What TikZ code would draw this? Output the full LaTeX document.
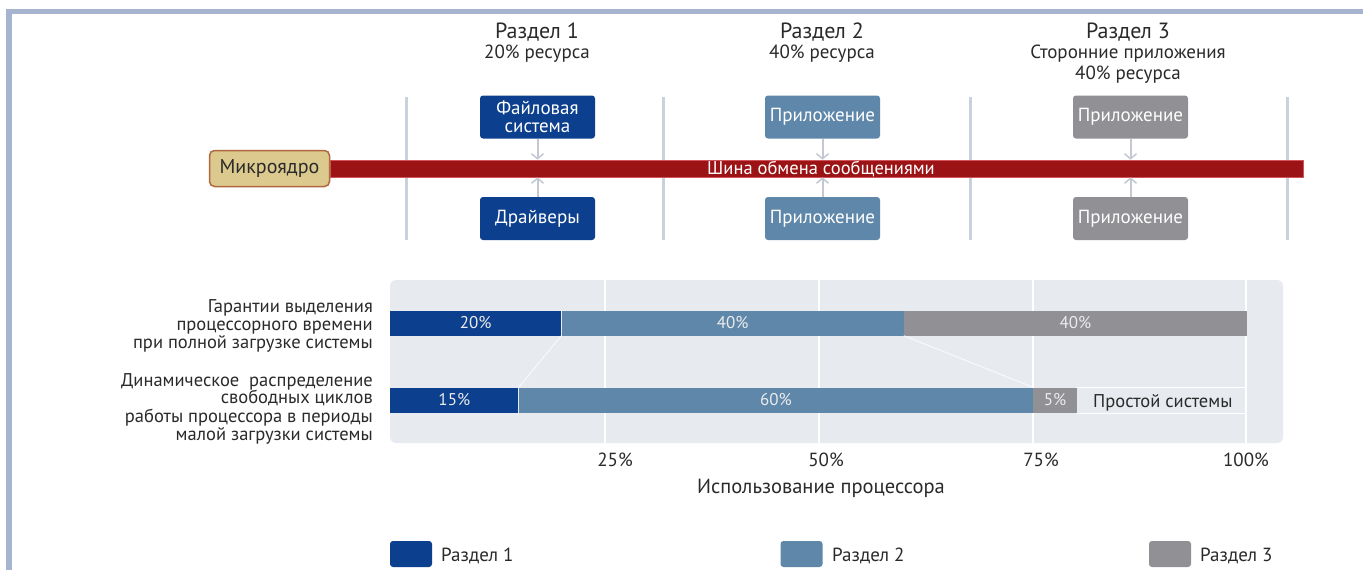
\documentclass[tikz,border=0pt]{standalone}
\usepackage{fontspec}
\setmainfont{PT Sans}
\usetikzlibrary{arrows.meta}
\definecolor{frame}{HTML}{A6B4CF}
\definecolor{sone}{HTML}{0C3F8D}
\definecolor{stwo}{HTML}{5E87A9}
\definecolor{sthree}{HTML}{909095}
\definecolor{busred}{HTML}{9C1315}
\definecolor{busedge}{HTML}{D0545A}
\definecolor{kernfill}{HTML}{DCC98E}
\definecolor{kernedge}{HTML}{B0683F}
\definecolor{vlinec}{HTML}{C9D1DD}
\definecolor{arrc}{HTML}{C4C8D0}
\definecolor{panel}{HTML}{E7EBF0}
\definecolor{txt}{HTML}{2A2A2A}
\newcommand\fsz[2]{\fontsize{#1}{#2}\selectfont}
\tikzset{
  secbox/.style={rounded corners=3pt, minimum width=115pt, minimum height=43pt, text=white, font=\fsz{19}{18}, align=center, inner sep=0pt},
  vline/.style={draw=vlinec, line width=3pt},
  msgarr/.style={draw=arrc, line width=2pt, -{Straight Barb[length=5pt,width=12pt,line width=1.5pt]}},
  ttl/.style={font=\fsz{22}{22}, text=txt, inner sep=0pt, anchor=base},
  sub/.style={font=\fsz{19}{19}, text=txt, inner sep=0pt, anchor=base},
  barseg/.style={minimum height=25pt, inner sep=0pt, text=white!85!gray, font=\fsz{17}{17}, anchor=west},
  lbl/.style={font=\fsz{18.5}{18.5}, text=txt, inner sep=0pt, anchor=base east},
  axl/.style={font=\fsz{19}{19}, text=txt, inner sep=0pt, anchor=base},
  grid/.style={draw=white, line width=1.5pt},
  legsq/.style={minimum width=42pt, minimum height=26pt, rounded corners=3pt, inner sep=0pt},
  legtx/.style={font=\fsz{19}{19}, text=txt, inner sep=0pt, anchor=base west}
}
\begin{document}
\begin{tikzpicture}[x=1pt,y=-1pt]
\useasboundingbox[fill=white] (0,0) rectangle (1363,570);
% frame
\fill[frame] (6,9) rectangle (1363,14);
\fill[frame] (6,9) rectangle (12,570);

% section titles
\node[ttl] (t1) at (537,38) {Раздел 1};
\node[sub] (s1) at (537,58) {20\% ресурса};
\node[ttl] (t2) at (822,38) {Раздел 2};
\node[sub] (s2) at (822,58) {40\% ресурса};
\node[ttl] (t3) at (1128,38) {Раздел 3};
\node[sub] (s3) at (1128,58) {Сторонние приложения};
\node[sub] (s3b) at (1128,79) {40\% ресурса};

% vertical separators
\draw[vline] (406,97) -- (406,240);
\draw[vline] (663,97) -- (663,240);
\draw[vline] (970,97) -- (970,240);
\draw[vline] (1287,97) -- (1287,240);

% bus
\node[fill=busred, draw=busedge, line width=0.6pt, minimum width=973pt, minimum height=17pt, inner sep=0pt, anchor=west] (bus) at (330,168.5) {};
\node[font=\fsz{18.5}{18.5}, text=white, inner sep=0pt, anchor=base] (bustxt) at (821,174) {Шина обмена сообщениями};

% kernel
\node[fill=kernfill, draw=kernedge, line width=1.5pt, rounded corners=5pt, minimum width=120pt, minimum height=36pt, inner sep=0pt, font=\fsz{20}{20}, text=txt] (kern) at (269.5,168.5) {Микроядро};

% boxes
\node[secbox, fill=sone] (fs) at (537.5,117) {Файловая\\система};
\node[secbox, fill=sone] (drv) at (537.5,218.5) {Драйверы};
\node[secbox, fill=stwo] (a2t) at (822.5,117) {Приложение};
\node[secbox, fill=stwo] (a2b) at (822.5,218.5) {Приложение};
\node[secbox, fill=sthree] (a3t) at (1130.5,117) {Приложение};
\node[secbox, fill=sthree] (a3b) at (1130.5,218.5) {Приложение};

% arrows to bus
\foreach \n in {fs,a2t,a3t}{\draw[msgarr] (\n.south) -- (\n.south |- bus.north);}
\foreach \n in {drv,a2b,a3b}{\draw[msgarr] (\n.north) -- (\n.north |- bus.south);}

% chart panel
\fill[panel, rounded corners=6pt] (390,280) rectangle (1283,443);
\foreach \gx in {605,819,1033,1246}{\draw[grid] (\gx,280) -- (\gx,443);}
\draw[white, line width=1pt] (1076,387) -- (1246,387);
\draw[white, line width=1pt] (1076,413) -- (1246,413);

% bar 1
\node[barseg, fill=sone, minimum width=171pt] (b11) at (390,323) {20\%};
\node[barseg, fill=stwo, minimum width=342pt] (b12) at (b11.east) {40\%};
\node[barseg, fill=sthree, minimum width=343pt] (b13) at (b12.east) {40\%};
% bar 2
\node[barseg, fill=sone, minimum width=128.25pt] (b21) at (390,400) {15\%};
\node[barseg, fill=stwo, minimum width=514pt] (b22) at (b21.east) {60\%};
\node[barseg, fill=sthree, minimum width=43.5pt] (b23) at (b22.east) {5\%};
\node[font=\fsz{18.5}{18.5}, text=txt, inner sep=0pt, anchor=base west] (idle) at (1093,407) {Простой системы};

% faint connectors
\draw[white, opacity=0.7, line width=1pt] (b11.south east) -- (b21.north east);
\draw[white, opacity=0.7, line width=1pt] (b12.south east) -- (b22.north east);

% left labels
\node[lbl] (l1) at (373,312) {Гарантии выделения};
\node[lbl] (l2) at (373,330) {процессорного времени};
\node[lbl] (l3) at (373,348) {при полной загрузке системы};
\node[lbl] (l4) at (373,386) {Динамическое\ \ распределение};
\node[lbl] (l5) at (373,403) {свободных циклов};
\node[lbl] (l6) at (373,422) {работы процессора в периоды};
\node[lbl] (l7) at (373,440) {малой загрузки системы};

% axis labels
\node[axl] (x25) at (615,466) {25\%};
\node[axl] (x50) at (826,466) {50\%};
\node[axl] (x75) at (1041,466) {75\%};
\node[axl] (x100) at (1246,466) {100\%};
\node[axl, font=\fsz{20.5}{20.5}] (xt) at (821,493) {Использование процессора};

% legend
\node[legsq, fill=sone] (q1) at (411,554) {};
\node[legtx] (lg1) at (441,561) {Раздел 1};
\node[legsq, fill=stwo] (q2) at (801.5,554) {};
\node[legtx] (lg2) at (832,561) {Раздел 2};
\node[legsq, fill=sthree] (q3) at (1170,554) {};
\node[legtx] (lg3) at (1200,561) {Раздел 3};
\end{tikzpicture}
\end{document}
